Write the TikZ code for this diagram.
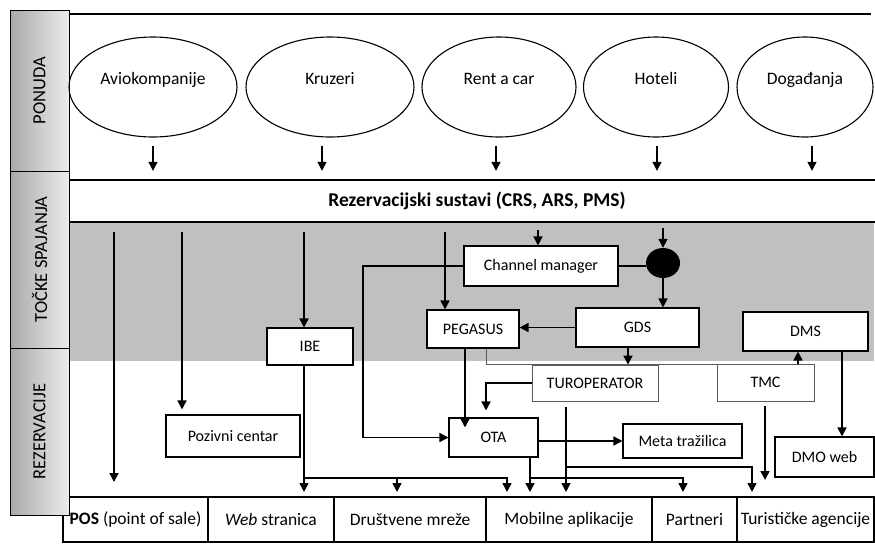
\documentclass[tikz,border=0pt]{standalone}
\usepackage{fontspec}
\setmainfont{Carlito}
\usepackage{tikz}
\usetikzlibrary{arrows.meta,positioning,shapes.geometric}
\definecolor{zone}{HTML}{C0C0C0}
\definecolor{sidetop}{HTML}{ECECEC}
\definecolor{sidebot}{HTML}{A9A9A9}
\definecolor{thinline}{HTML}{5A5A5A}
\newcommand{\bigfont}{\fontsize{17.5}{20}\selectfont}
\newcommand{\boxfont}{\fontsize{16}{19}\selectfont}
\newcommand{\titlefont}{\fontsize{19.5}{22}\selectfont\bfseries}
\tikzset{
  offer/.style={
    ellipse, draw, line width=1.1pt, minimum height=100pt,
    inner sep=1pt, font=\bigfont, text height=12pt, text depth=18pt,
  },
  sidelbl/.style={
    draw, line width=0.9pt, rotate=90, minimum height=59pt, inner sep=0pt,
    left color=sidebot, right color=sidetop, font=\fontsize{18.5}{21}\selectfont,
  },
  mybox/.style={draw, fill=white, line width=1.1pt, inner sep=0pt, font=\boxfont},
  thinbox/.style={mybox, draw=thinline, line width=0.7pt},
  cell/.style={
    draw, fill=white, line width=1.1pt, minimum height=45pt,
    inner sep=0pt, outer sep=0pt, font=\bigfont,
  },
  arrow/.style={-{Triangle[length=9pt,width=9pt]}, line width=1.6pt},
  link/.style={line width=1.6pt},
  thinlink/.style={line width=0.8pt, color=thinline},
}

\begin{document}
\begin{tikzpicture}[x=1pt,y=-1pt]
  \useasboundingbox (0,0) rectangle (875,547);

  % zones
  \fill[zone] (69,222) rectangle (874,361);
  \draw[line width=1.1pt] (69,14) -- (871,14);
  \draw[line width=2.2pt] (69,180) -- (875,180);
  \draw[line width=1.8pt] (69,222) -- (875,222);

  % bottom row
  \node[cell, minimum width=145pt] (pos) at (135.5,519.5) {\textbf{POS} (point of sale)};
  \node[cell, minimum width=126pt, right=0pt of pos] (web) {\textit{Web} stranica};
  \node[cell, minimum width=152pt, right=0pt of web] (drus) {Društvene mreže};
  \node[cell, minimum width=166pt, right=0pt of drus] (mob) {Mobilne aplikacije};
  \node[cell, minimum width=85pt, right=0pt of mob] (part) {Partneri};
  \node[cell, minimum width=137pt, right=0pt of part] (agen) {Turističke agencije};

  \node[sidelbl, minimum width=161pt] (lponuda) at (39.5,90.5) {PONUDA};
  \node[sidelbl, minimum width=177pt] (ltocke) at (39.5,259.5) {TOČKE SPAJANJA};
  \node[sidelbl, minimum width=167pt] (lrez) at (39.5,431.5) {REZERVACIJE};

  % ponuda
  \node[offer, minimum width=168pt] (avio) at (153,87) {Aviokompanije};
  \node[offer, minimum width=168pt] (kruz) at (330,87) {Kruzeri};
  \node[offer, minimum width=154pt] (rent) at (499,87) {Rent a car};
  \node[offer, minimum width=145pt] (hotel) at (656,87) {Hoteli};
  \node[offer, minimum width=136pt] (dog) at (805,87) {Događanja};

  \node[font=\titlefont, minimum width=806pt, minimum height=42pt,
        inner sep=0pt] (rezsys) at (477,201) {Rezervacijski sustavi (CRS, ARS, PMS)};

  % tocke spajanja / rezervacije
  \node[mybox, minimum width=154pt, minimum height=40pt] (chman) at (541,266) {Channel manager};
  \node[fill, ellipse, minimum width=34pt, minimum height=30pt, inner sep=0pt] (dot) at (663,263) {};
  \node[mybox, minimum width=92pt, minimum height=38pt] (pegasus) at (473,329) {PEGASUS};
  \node[mybox, minimum width=123pt, minimum height=39pt] (gds) at (637.5,327.5) {GDS};
  \node[mybox, minimum width=125pt, minimum height=39pt] (dms) at (805.5,331.5) {DMS};
  \node[mybox, minimum width=86pt, minimum height=37pt] (ibe) at (310,346.5) {IBE};
  \node[thinbox, minimum width=126pt, minimum height=36pt] (turop) at (595,383) {TUROPERATOR};
  \node[thinbox, minimum width=97pt, minimum height=37pt] (tmc) at (765.5,382.5) {TMC};
  \node[mybox, minimum width=134pt, minimum height=42pt] (poziv) at (233,436) {Pozivni centar};
  \node[mybox, minimum width=89pt, minimum height=39pt] (ota) at (493.5,437.5) {OTA};
  \node[mybox, minimum width=119pt, minimum height=34pt] (meta) at (682.5,441) {Meta tražilica};
  \node[mybox, minimum width=99pt, minimum height=40pt] (dmoweb) at (824.5,457) {DMO web};

  % lanes
  \coordinate (xpos) at (114,0);
  \coordinate (xpoz) at (182,0);
  \coordinate (xibe) at (304,0);
  \coordinate (xdrus) at (397,0);
  \coordinate (xpeg) at (445,0);
  \coordinate (xpota) at (465,0);
  \coordinate (xtur) at (486,0);
  \coordinate (xmobi) at (507,0);
  \coordinate (xmobo) at (530,0);
  \coordinate (xchm) at (538,0);
  \coordinate (xto) at (566,0);
  \coordinate (xgds) at (628,0);
  \coordinate (xpart) at (683,0);
  \coordinate (xagen) at (752,0);
  \coordinate (xtmcd) at (765,0);
  \coordinate (xtmc) at (798,0);
  \coordinate (xdmo) at (842,0);
  \coordinate (yagen) at (0,467);
  \coordinate (ysplit) at (0,478);
  \coordinate (cmbend) at (363,350);

  \foreach \n/\dx in {avio/0,kruz/-8,rent/-3,hotel/1,dog/7}
    \draw[arrow, line width=1.3pt, shorten <=8pt, shorten >=9pt]
      ([xshift=\dx pt]\n.south) -- ([xshift=\dx pt]\n.south |- rezsys.north);

  \draw[arrow, shorten <=10pt, shorten >=15pt] (xpos |- rezsys.south) -- (xpos |- pos.north);
  \draw[arrow, shorten <=10pt, shorten >=5pt] (xpoz |- rezsys.south) -- (xpoz |- poziv.north);
  \draw[arrow, shorten <=10pt] (xibe |- rezsys.south) -- (xibe |- ibe.north);
  \draw[arrow, shorten <=10pt] (xpeg |- rezsys.south) -- (xpeg |- pegasus.north);
  \draw[arrow, shorten <=8pt] (xchm |- rezsys.south) -- (xchm |- chman.north);
  \draw[arrow, shorten <=6pt] (dot.north |- rezsys.south) -- (dot.north);

  \draw[link] (chman.east) -- (chman.east -| dot.west);
  \draw[arrow] (dot.south) -- (dot.south |- gds.north);
  \draw[arrow] (chman.west) -| (cmbend) |- (ota.west);

  \draw[arrow] (gds.west) -- (gds.west -| pegasus.east);
  \draw[arrow] (xgds |- gds.south) -- (xgds |- turop.north);

  \draw[arrow, shorten >=-10pt] (xpota |- pegasus.south) -- (xpota |- ota.north);
  \draw[thinlink] (xtur |- pegasus.south) -- (xtur |- turop.north) -- (xtmc |- turop.north);
  \draw[arrow] (xtmc |- tmc.north) -- (xtmc |- dms.south);

  \draw[arrow, shorten >=7pt] (turop.west) -| (xtur |- ota.north);
  \draw[arrow, shorten <=6pt, shorten >=5pt] (xto |- turop.south) -- (xto |- mob.north);
  \draw[arrow, shorten >=5pt] (xto |- yagen) -| (xagen |- agen.north);

  \draw[arrow] (ota.east |- meta.west) -- (meta.west);
  \draw[arrow, shorten >=5pt] (xmobo |- ota.south) -- (xmobo |- mob.north);
  \draw[arrow, shorten >=5pt] (xmobo |- ysplit) -| (xpart |- part.north);

  \draw[arrow, shorten >=5pt] (xibe |- ibe.south) -- (xibe |- web.north);
  \draw[arrow, shorten >=5pt] (xibe |- ysplit) -| (xmobi |- mob.north);
  \draw[arrow, shorten >=5pt] (xdrus |- ysplit) -- (xdrus |- drus.north);

  \draw[arrow, shorten <=5pt, shorten >=17pt] (xtmcd |- tmc.south) -- (xtmcd |- agen.north);
  \draw[arrow] (xdmo |- dms.south) -- (xdmo |- dmoweb.north);

\end{tikzpicture}
\end{document}
